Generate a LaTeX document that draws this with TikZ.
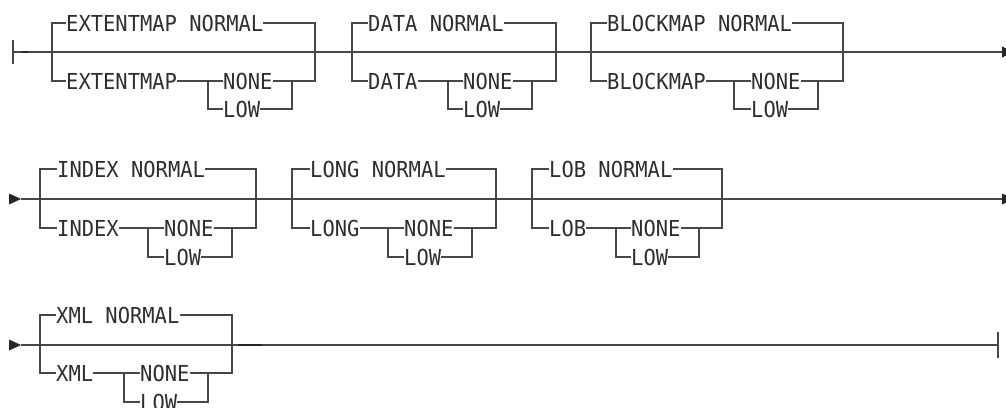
\documentclass[tikz,border=0pt]{standalone}
\usepackage{fontspec}
\newfontfamily\railfont[FakeStretch=0.93]{DejaVu Sans Mono}
\tikzset{
  rail/.style={line width=1.2pt, draw=black!72},
  kw/.style={font=\railfont\fontsize{22}{22}\selectfont, text=black!82, inner xsep=0pt, inner ysep=0pt, anchor=west},
  arrowhd/.style={fill=black!85, draw=none},
}
% #1 prefix, #2 L, #3 R, #4 ymain, #5 ytop, #6 ybot, #7 ylow, #8 textx, #9 top text
\newcommand\railA[9]{%
  \coordinate (#1-Lm) at (#2,#4);
  \coordinate (#1-Rm) at (#3,#4);
  \coordinate (#1-Lb) at (#2,#6);
  \coordinate (#1-Rb) at (#3,#6);
  \node[kw] (#1-top) at (#8-2,#5) {#9};
}
% #1 prefix, #2 bottom keyword, #3 textx, #4 ybot, #5 ylow, #6 IL, #7 nonex, #8 IR
\newcommand\railB[8]{%
  \node[kw] (#1-kw) at (#3-2,#4) {#2};
  \node[kw] (#1-none) at (#7-2,#4) {NONE};
  \node[kw] (#1-low) at (#7-2,#5) {LOW};
  \coordinate (#1-ILn) at (#6,#4);
  \coordinate (#1-IRn) at (#8,#4);
  \draw[rail] (#1-top.west) -| (#1-Lb) -- (#1-kw.west);
  \draw[rail] (#1-top.east) -| (#1-Rb) -- (#1-IRn);
  \draw[rail] (#1-kw.east) -- (#1-ILn) -- (#1-none.west);
  \draw[rail] (#1-ILn) |- (#1-low.west);
  \draw[rail] (#1-none.east) -- (#1-IRn);
  \draw[rail] (#1-low.east) -| (#1-IRn);
}
\begin{document}
\begin{tikzpicture}[x=1pt,y=-1pt]
\clip (0,0) rectangle (1006,407);
\fill[white] (0,0) rectangle (1006,407);

% ---------- Row 1 ----------
\coordinate (s1) at (13,52);
\coordinate (s1t) at (13,40);
\coordinate (s1b) at (13,64);
\coordinate (e1) at (1002,52);
\railA{ext}{52}{315}{52}{23}{81}{109}{68}{EXTENTMAP NORMAL}
\railB{ext}{EXTENTMAP}{68}{81}{109}{208}{225}{292}
\railA{data}{352}{556}{52}{23}{81}{109}{370}{DATA NORMAL}
\railB{data}{DATA}{370}{81}{109}{448}{465}{532}
\railA{blk}{591}{843}{52}{23}{81}{109}{609}{BLOCKMAP NORMAL}
\railB{blk}{BLOCKMAP}{609}{81}{109}{734}{753}{818}
\draw[rail] (s1t) -- (s1b);
\draw[rail] (s1) -- (ext-Lm) -- (ext-Rm) -- (data-Lm) -- (data-Rm) -- (blk-Lm) -- (blk-Rm) -- (e1);
\coordinate (k1a) at (22,52); \coordinate (k1b) at (28,52);
\draw[line width=2.2pt, draw=black!85] (k1a) -- (k1b);
\fill[arrowhd] (1002,46.5) -- (1014,52) -- (1002,57.5) -- cycle;

% ---------- Row 2 ----------
\coordinate (s2) at (21,199);
\coordinate (e2) at (1002,199);
\fill[arrowhd] (9,193.5) -- (21,199) -- (9,204.5) -- cycle;
\railA{idx}{40}{256}{199}{169}{228}{257}{59}{INDEX NORMAL}
\railB{idx}{INDEX}{59}{228}{257}{148}{166}{232}
\railA{long}{292}{496}{199}{169}{228}{257}{312}{LONG NORMAL}
\railB{long}{LONG}{312}{228}{257}{388}{406}{472}
\railA{lob}{532}{722}{199}{169}{228}{257}{551}{LOB NORMAL}
\railB{lob}{LOB}{551}{228}{257}{616}{633}{699}
\draw[rail] (s2) -- (idx-Lm) -- (idx-Rm) -- (long-Lm) -- (long-Rm) -- (lob-Lm) -- (lob-Rm) -- (e2);
\fill[arrowhd] (1002,193.5) -- (1014,199) -- (1002,204.5) -- cycle;

% ---------- Row 3 ----------
\coordinate (s3) at (21,345);
\coordinate (e3) at (998,345);
\coordinate (e3t) at (998,332);
\coordinate (e3b) at (998,358);
\fill[arrowhd] (9,339.5) -- (21,345) -- (9,350.5) -- cycle;
\railA{xml}{40}{232}{345}{315}{373}{402}{58}{XML NORMAL}
\railB{xml}{XML}{58}{373}{402}{124}{142}{208}
\draw[rail] (s3) -- (xml-Lm) -- (xml-Rm) -- (e3);
\draw[rail] (e3t) -- (e3b);
\coordinate (k3a) at (238,345); \coordinate (k3b) at (262,345);
\draw[line width=2.2pt, draw=black!85] (k3a) -- (k3b);
\end{tikzpicture}
\end{document}
